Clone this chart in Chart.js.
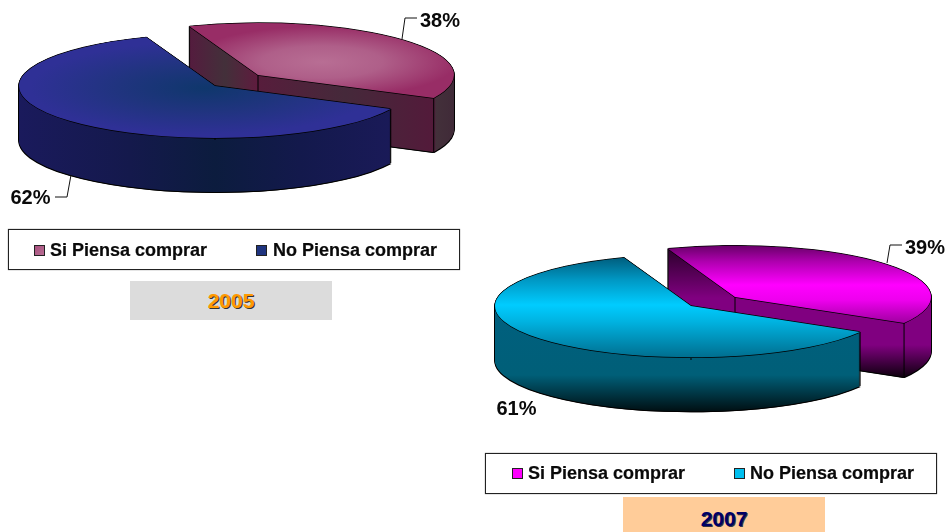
<!DOCTYPE html>
<html><head><meta charset="utf-8">
<script src="https://cdn.jsdelivr.net/npm/chart.js@4"></script>
<style>
html,body{margin:0;padding:0;background:#fff;width:947px;height:532px;overflow:hidden}
canvas{position:absolute;left:0;top:0}
.lg{position:absolute;box-sizing:border-box;border:1.5px solid #222;background:#fff;box-shadow:0 0 1px #666}
.sw{position:absolute;width:11px;height:11px;box-sizing:border-box;border:1px solid #222}
.tx,.yr{position:absolute;font-family:"Liberation Sans",Arial,sans-serif;font-weight:700;white-space:nowrap;line-height:20px}
.tx{font-size:18px;color:#0a0a0a;-webkit-text-stroke:0.2px #0a0a0a}
.yr{font-size:21px;text-align:center;line-height:24px}
</style></head><body>
<canvas id="c1" width="947" height="532"></canvas>
<canvas id="c2" width="947" height="532"></canvas>
<script>
const categories = ["Si Piensa comprar", "No Piensa comprar"];
const values2005 = [38, 62];
const values2007 = [39, 61];
const year2005 = "2005";
const year2007 = "2007";

const pie2005 = {
  values: values2005, center: [215, 86], explode: [43, -11], k: 0.265, depth: 54, rotation: -20.5,
  tops: [
    {radial: [322, 62, 135], stops: [[0, '#B86E94'], [0.45, '#AF5F89'], [1, '#982D66']]},
    {radial: [205, 88, 175], stops: [[0, '#0F376C'], [0.5, '#20347F'], [1, '#2F3096']]}
  ],
  sides: [
    {axis: 'x', stops: [[190, '#541C3E'], [225, '#43303A'], [257, '#5E1C3E'], [258, '#571D3C'], [345, '#45293A'], [434, '#531A3A'], [436, '#43303A'], [454, '#402A38']]},
    {axis: 'x', stops: [[19, '#1A1A5C'], [130, '#14194C'], [215, '#0C1C3E'], [300, '#13194C'], [392, '#1A1A58']]}
  ],
  labels: [
    {at: [440, 21.5], line: [[402, 39], [405, 18], [417, 18]]},
    {at: [30.5, 198.5], line: [[71, 175], [67, 197], [55, 197]]}
  ]
};
const pie2007 = {
  values: values2007, center: [691, 306], explode: [44, -9], k: 0.262, depth: 54, rotation: -20,
  tops: [
    {axis: 'y', stops: [[245, '#660066'], [262, '#B000B0'], [285, '#FF00FF'], [300, '#EE00EE'], [325, '#990099']]},
    {axis: 'y', stops: [[257, '#005C7C'], [280, '#0098C4'], [305, '#00CCFF'], [322, '#00B2E0'], [357, '#006F90']]}
  ],
  sides: [
    {axis: 'y', stops: [[248, '#2A002A'], [298, '#800080'], [345, '#800080'], [376, '#120012']]},
    {axis: 'y', stops: [[300, '#006080'], [375, '#005F78'], [411, '#001014']]}
  ],
  labels: [
    {at: [925, 248], line: [[887, 263], [890, 245], [902, 245]]},
    {at: [516.5, 409.5], line: null}
  ]
};

function makePaint(ctx, spec, toUserX, toUserY) {
  let g;
  if (spec.radial) {
    const [x, y, r] = spec.radial;
    g = ctx.createRadialGradient(toUserX(x), toUserY(y), 0, toUserX(x), toUserY(y), r);
    spec.stops.forEach(s => g.addColorStop(s[0], s[1]));
    return g;
  }
  const a = spec.stops[0][0], b = spec.stops[spec.stops.length - 1][0];
  g = spec.axis === 'x'
    ? ctx.createLinearGradient(toUserX(a), 0, toUserX(b), 0)
    : ctx.createLinearGradient(0, toUserY(a), 0, toUserY(b));
  spec.stops.forEach(s => g.addColorStop((s[0] - a) / (b - a), s[1]));
  return g;
}

function pie3d(cfg) {
  return {
    id: 'pie3d',
    beforeDatasetDraw(chart, args) {
      const ctx = chart.ctx;
      args.meta.data.forEach((arc, i) => {
        const ex = i === 0 ? cfg.explode : [0, 0];
        const tx = cfg.center[0] + ex[0], ty = cfg.center[1] + ex[1];
        const base = arc.options;
        const paint = (dx, dy, style) => {
          ctx.save();
          ctx.translate(tx + dx, ty + dy);
          ctx.scale(1, cfg.k);
          ctx.translate(-arc.x, -arc.y);
          arc.options = Object.assign({}, base, {backgroundColor: style, borderWidth: 0});
          arc.draw(ctx);
          ctx.restore();
        };
        const uX = dx => X => X - tx - dx + arc.x;
        const uY = dy => Y => (Y - ty - dy) / cfg.k + arc.y;
        // outline of the extruded body
        for (let d = 0; d <= cfg.depth + 1; d++) {
          paint(-0.7, d, '#000'); paint(0.7, d, '#000');
        }
        // side wall
        for (let d = cfg.depth; d >= 0; d -= 0.5) {
          paint(0, d, makePaint(ctx, cfg.sides[i], uX(0), uY(d)));
        }
        // vertical edges
        ctx.save();
        ctx.strokeStyle = '#000'; ctx.lineWidth = 1;
        const R = arc.outerRadius;
        [[0, 0], [Math.cos(arc.startAngle) * R, Math.sin(arc.startAngle) * R],
         [Math.cos(arc.endAngle) * R, Math.sin(arc.endAngle) * R]].forEach(p => {
          const X = tx + p[0], Y = ty + p[1] * cfg.k;
          ctx.beginPath(); ctx.moveTo(X, Y); ctx.lineTo(X, Y + cfg.depth); ctx.stroke();
        });
        ctx.restore();
        // top face
        paint(0, -0.7, '#000'); paint(0, 0.7, '#000'); paint(-0.5, 0, '#000'); paint(0.5, 0, '#000');
        paint(0, 0, makePaint(ctx, cfg.tops[i], uX(0), uY(0)));
        arc.options = base;
      });
      return false;
    },
    afterDraw(chart) {
      const ctx = chart.ctx;
      ctx.save();
      ctx.font = 'bold 20px "Liberation Sans", Arial, sans-serif';
      ctx.textAlign = 'center'; ctx.textBaseline = 'middle';
      ctx.fillStyle = '#0a0a0a'; ctx.strokeStyle = '#111'; ctx.lineWidth = 1;
      cfg.labels.forEach((l, i) => {
        ctx.fillText(cfg.values[i] + '%', l.at[0], l.at[1]);
        if (l.line) {
          ctx.beginPath();
          l.line.forEach((p, j) => j ? ctx.lineTo(p[0], p[1]) : ctx.moveTo(p[0], p[1]));
          ctx.stroke();
        }
      });
      ctx.restore();
    }
  };
}

function build(id, cfg) {
  new Chart(document.getElementById(id), {
    type: 'pie',
    data: {labels: categories, datasets: [{data: cfg.values, backgroundColor: ['#A04068', '#2F3096'], borderWidth: 0}]},
    options: {
      responsive: false, animation: false, rotation: cfg.rotation,
      layout: {padding: {top: 70, bottom: 70, left: 0, right: 0}},
      plugins: {legend: {display: false}, tooltip: {enabled: false}}
    },
    plugins: [pie3d(cfg)]
  });
}
build('c1', pie2005);
build('c2', pie2007);

function el(cls, css, text) {
  const d = document.createElement('div');
  d.className = cls;
  Object.assign(d.style, css);
  if (text) d.textContent = text;
  document.body.appendChild(d);
  return d;
}
function legend(box, items) {
  el('lg', {left: box[0] + 'px', top: box[1] + 'px', width: box[2] + 'px', height: box[3] + 'px'});
  items.forEach((it, i) => {
    el('sw', {left: it.sx + 'px', top: it.sy + 'px', background: it.fill});
    el('tx', {left: it.tx + 'px', top: (it.sy - 5) + 'px'}, categories[i]);
  });
}
legend([8, 229, 452, 41], [
  {sx: 34, sy: 245, tx: 50, fill: 'linear-gradient(135deg,#A8507E,#B86E94)'},
  {sx: 256, sy: 245, tx: 273, fill: '#1F347F'}
]);
legend([485, 453, 452, 41], [
  {sx: 512, sy: 468, tx: 528, fill: '#FF00FF'},
  {sx: 734, sy: 468, tx: 750, fill: '#00BFEF'}
]);
el('yr', {left: '130px', top: '281px', width: '202px', height: '39px', lineHeight: '40px', background: '#DCDCDC', color: '#FF9900', textShadow: '1px 1px 0 #333'}, year2005);
el('yr', {left: '623px', top: '497px', width: '202px', height: '35px', lineHeight: '43px', background: '#FFCC99', color: '#000066', textShadow: '1px 1px 0 #334'}, year2007);
</script>
</body></html>
